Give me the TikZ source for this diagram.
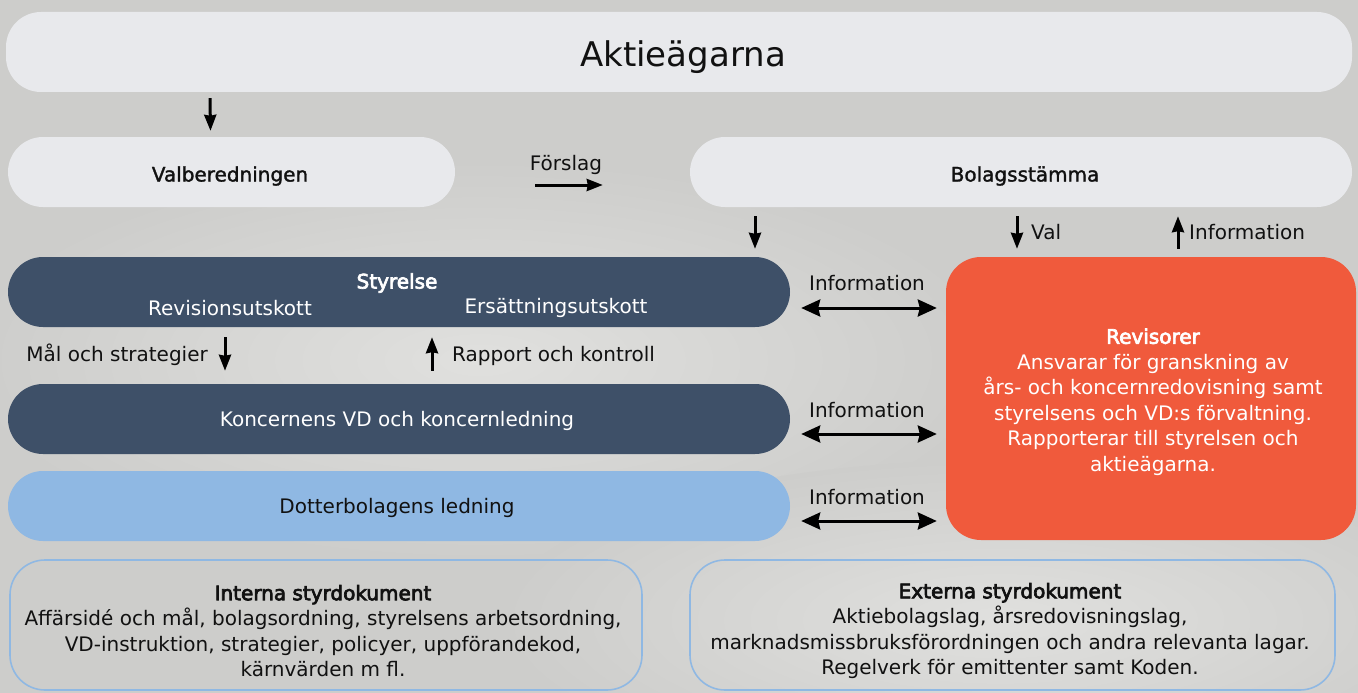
\documentclass[tikz,border=0pt]{standalone}
\usepackage{fontspec}
\setmainfont{DejaVu Sans}
\newfontfamily\medfont[FakeBold=1.5]{DejaVu Sans}
\newfontfamily\semifont[FakeBold=3.5]{DejaVu Sans}
\usetikzlibrary{arrows.meta,calc}
\definecolor{bgc}{RGB}{205,205,203}
\definecolor{bglight}{RGB}{224,224,222}
\definecolor{boxlight}{RGB}{232,233,236}
\definecolor{navy}{RGB}{62,80,104}
\definecolor{skyblue}{RGB}{143,184,227}
\definecolor{orangered}{RGB}{240,90,60}
\definecolor{ink}{RGB}{17,17,17}
\tikzset{
  pill/.style={rectangle, rounded corners=35pt, inner sep=0pt, draw=none},
  txt/.style={inner sep=0pt, text=ink, align=center},
  wtxt/.style={inner sep=0pt, text=white, align=center},
  arr/.style={line width=3pt, draw=black, -{Stealth[length=16pt,width=12pt,inset=1pt]}},
  darr/.style={line width=3pt, draw=black, {Stealth[length=19pt,width=17pt,inset=2pt]}-{Stealth[length=19pt,width=17pt,inset=2pt]}},
  docbox/.style={rectangle, rounded corners=35pt, draw=skyblue, line width=1.6pt, inner sep=0pt}
}
\begin{document}
\begin{tikzpicture}[x=1pt,y=-1pt,font=\fontsize{20}{25.5}\selectfont]
\useasboundingbox (0,0) rectangle (1358,693);
\begin{scope}
\clip (0,0) rectangle (1358,693);
\fill[bgc] (0,0) rectangle (1358,693);
\shade[inner color=bglight, outer color=bgc] (480,360) ellipse (520 and 200);
\shade[inner color=bglight, outer color=bgc] (1000,620) ellipse (500 and 160);

% boxes
\node[pill, fill=boxlight, minimum width=1346, minimum height=80] (akt) at (679,52) {};
\node[txt, font=\fontsize{34}{40}\selectfont] (aktt) at (683,57) {Aktieägarna};

\node[pill, fill=boxlight, minimum width=447, minimum height=70] (valb) at (231.5,172) {};
\node[txt, font=\fontsize{20}{25.5}\medfont] (valbt) at (230,176) {Valberedningen};

\node[pill, fill=boxlight, minimum width=662, minimum height=70] (bol) at (1021,172) {};
\node[txt, font=\fontsize{20}{25.5}\medfont] (bolt) at (1025,176) {Bolagsstämma};

\node[pill, fill=navy, minimum width=782, minimum height=70] (styr) at (399,292) {};
\node[wtxt, font=\fontsize{20}{25.5}\semifont] (styrt) at (397,283) {Styrelse};
\node[wtxt] (revu) at (230,308) {Revisionsutskott};
\node[wtxt] (ersu) at (556,308) {Ersättningsutskott};

\node[pill, fill=navy, minimum width=782, minimum height=70] (kon) at (399,419) {};
\node[wtxt] (kont) at (397,421) {Koncernens VD och koncernledning};

\node[pill, fill=skyblue, minimum width=782, minimum height=70] (dot) at (399,506) {};
\node[txt] (dott) at (397,508) {Dotterbolagens ledning};

\node[pill, fill=orangered, minimum width=410, minimum height=283] (rev) at (1151,398.5) {};
\node[wtxt] (revt) at (1153,402) {{\semifont Revisorer}\\Ansvarar för granskning av\\års- och koncernredovisning samt\\styrelsens och VD:s förvaltning.\\Rapporterar till styrelsen och\\aktieägarna.};

\node[docbox, minimum width=632, minimum height=130] (int) at (326,625) {};
\node[txt] (intt) at (323,631) {{\semifont Interna styrdokument}\\Affärsidé och mål, bolagsordning, styrelsens arbetsordning,\\VD-instruktion, strategier, policyer, uppförandekod,\\kärnvärden m fl.};

\node[docbox, minimum width=645, minimum height=130] (ext) at (1012.5,625) {};
\node[txt] (extt) at (1010,631) {{\semifont Externa styrdokument}\\Aktiebolagslag, årsredovisningslag,\\marknadsmissbruksförordningen och andra relevanta lagar.\\Regelverk för emittenter samt Koden.};

% arrows
\coordinate (a1s) at ($(akt.south)+(-469,6)$);
\coordinate (a1e) at ($(valb.north)+(-21,-6)$);
\draw[arr] (a1s) -- (a1e);

\coordinate (fs) at ($(valb.east)+(80,13)$);
\coordinate (fe) at ($(bol.west)+(-87,13)$);
\draw[arr] (fs) -- (fe);
\node[txt] (forslag) at (566,165) {Förslag};

\coordinate (b1s) at ($(bol.south)+(-266,9)$);
\coordinate (b1e) at ($(styr.north)+(356,-8)$);
\draw[arr] (b1s) -- (b1e);

\coordinate (b2s) at ($(bol.south)+(-4,9)$);
\coordinate (b2e) at ($(rev.north)+(-134,-8)$);
\draw[arr] (b2s) -- (b2e);
\node[txt, anchor=west] (val) at (1031,232) {Val};

\coordinate (b3s) at ($(rev.north)+(27,-8)$);
\coordinate (b3e) at ($(bol.south)+(157,9)$);
\draw[arr] (b3s) -- (b3e);
\node[txt, anchor=west] (info0) at (1189,232) {Information};

\coordinate (s1s) at ($(styr.south)+(-174,10)$);
\coordinate (s1e) at ($(kon.north)+(-174,-13)$);
\draw[arr] (s1s) -- (s1e);
\node[txt, anchor=east] (mal) at (208,355) {Mål och strategier};

\coordinate (s2s) at ($(kon.north)+(33,-13)$);
\coordinate (s2e) at ($(styr.south)+(33,10)$);
\draw[arr] (s2s) -- (s2e);
\node[txt, anchor=west] (rapp) at (452,356) {Rapport och kontroll};

\draw[darr] ($(styr.east)+(11,16)$) -- ($(styr.east -| rev.west)+(-9,16)$);
\node[txt] (info1) at (867,283) {Information};
\draw[darr] ($(kon.east)+(11,15)$) -- ($(kon.east -| rev.west)+(-9,15)$);
\node[txt] (info2) at (867,410) {Information};
\draw[darr] ($(dot.east)+(11,15)$) -- ($(dot.east -| rev.west)+(-9,15)$);
\node[txt] (info3) at (867,497) {Information};
\end{scope}
\end{tikzpicture}
\end{document}
